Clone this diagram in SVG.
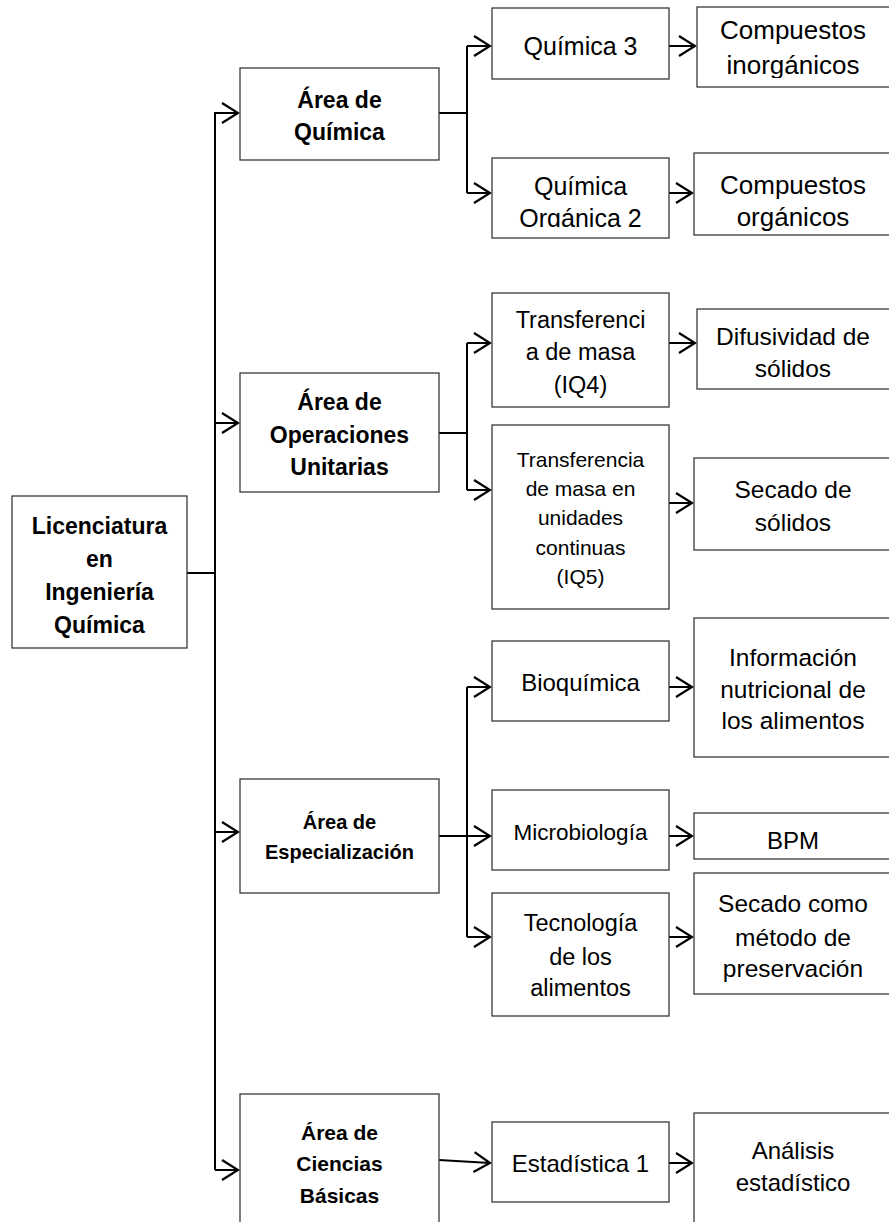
<svg xmlns="http://www.w3.org/2000/svg" width="889" height="1222" viewBox="0 0 889 1222">
<style>
.box{fill:#fff;stroke:#3a3a3a;stroke-width:1.3}
.t{font-family:"Liberation Sans",Arial,sans-serif;fill:#000;text-anchor:middle}
.b{font-weight:bold}
.c{fill:none;stroke:#000;stroke-width:2}
</style>
<defs>
<marker id="arr" markerUnits="userSpaceOnUse" viewBox="-18 -12 20 24" refX="0" refY="0" markerWidth="20" markerHeight="24" orient="auto">
<path d="M-16,-10 L0,0 L-16,10" fill="none" stroke="#000" stroke-width="2.2"/>
</marker>
<clipPath id="clipQO2"><rect x="492" y="158" width="177" height="69"/></clipPath>
<clipPath id="clipCI"><rect x="697" y="7" width="195" height="71"/></clipPath>
</defs>

<g id="connectors">
<path class="c" d="M187,573 H215"/>
<path class="c" d="M215,1170 V113 H238" marker-end="url(#arr)"/>
<path class="c" d="M215,423 H238" marker-end="url(#arr)"/>
<path class="c" d="M215,832 H238" marker-end="url(#arr)"/>
<path class="c" d="M215,1170 H238" marker-end="url(#arr)"/>
<path class="c" d="M439,113 H467"/>
<path class="c" d="M467,46 V193"/>
<path class="c" d="M467,46 H490" marker-end="url(#arr)"/>
<path class="c" d="M467,193 H490" marker-end="url(#arr)"/>
<path class="c" d="M439,433 H467"/>
<path class="c" d="M467,343 V490"/>
<path class="c" d="M467,343 H490" marker-end="url(#arr)"/>
<path class="c" d="M467,490 H490" marker-end="url(#arr)"/>
<path class="c" d="M439,836 H467"/>
<path class="c" d="M467,687 V937"/>
<path class="c" d="M467,687 H490" marker-end="url(#arr)"/>
<path class="c" d="M467,836 H490" marker-end="url(#arr)"/>
<path class="c" d="M467,937 H490" marker-end="url(#arr)"/>
<path class="c" d="M439,1160 L490,1163" marker-end="url(#arr)"/>
<path class="c" d="M669,46 H695" marker-end="url(#arr)"/>
<path class="c" d="M669,193 H692" marker-end="url(#arr)"/>
<path class="c" d="M669,343 H695" marker-end="url(#arr)"/>
<path class="c" d="M669,503 H692" marker-end="url(#arr)"/>
<path class="c" d="M669,687 H692" marker-end="url(#arr)"/>
<path class="c" d="M669,836 H692" marker-end="url(#arr)"/>
<path class="c" d="M669,937 H692" marker-end="url(#arr)"/>
<path class="c" d="M669,1163 H692" marker-end="url(#arr)"/>
</g>

<g id="root">
<rect class="box" x="12" y="496" width="175" height="152"/>
<text class="t b" font-size="23" x="99.5" y="534">Licenciatura</text>
<text class="t b" font-size="23" x="99.5" y="567">en</text>
<text class="t b" font-size="23" x="99.5" y="600">Ingeniería</text>
<text class="t b" font-size="23" x="99.5" y="633">Química</text>
</g>

<g id="area-quimica">
<rect class="box" x="240" y="68" width="199" height="92"/>
<text class="t b" font-size="23" x="339.5" y="108">Área de</text>
<text class="t b" font-size="23" x="339.5" y="140">Química</text>
</g>

<g id="area-operaciones">
<rect class="box" x="240" y="373" width="199" height="119"/>
<text class="t b" font-size="23" x="339.5" y="410">Área de</text>
<text class="t b" font-size="23" x="339.5" y="443">Operaciones</text>
<text class="t b" font-size="23" x="339.5" y="475">Unitarias</text>
</g>

<g id="area-especializacion">
<rect class="box" x="240" y="779" width="199" height="114"/>
<text class="t b" font-size="20" x="339.5" y="829">Área de</text>
<text class="t b" font-size="20" x="339.5" y="859">Especialización</text>
</g>

<g id="area-ciencias">
<rect class="box" x="240" y="1094" width="199" height="140"/>
<text class="t b" font-size="21" x="339.5" y="1140">Área de</text>
<text class="t b" font-size="21" x="339.5" y="1171">Ciencias</text>
<text class="t b" font-size="21" x="339.5" y="1203">Básicas</text>
</g>

<g id="quimica3">
<rect class="box" x="492" y="8" width="177" height="71"/>
<text class="t" font-size="25" x="580.5" y="55">Química 3</text>
</g>

<g id="quimica-organica2">
<rect class="box" x="492" y="158" width="177" height="80"/>
<g clip-path="url(#clipQO2)">
<text class="t" font-size="25" x="580.5" y="195">Química</text>
<text class="t" font-size="25" x="580.5" y="227">Orgánica 2</text>
</g>
</g>

<g id="compuestos-inorganicos">
<rect class="box" x="697" y="7" width="195" height="80"/>
<g clip-path="url(#clipCI)">
<text class="t" font-size="26" x="793" y="39">Compuestos</text>
<text class="t" font-size="26" x="793" y="74">inorgánicos</text>
</g>
</g>

<g id="compuestos-organicos">
<rect class="box" x="694" y="153" width="198" height="82"/>
<text class="t" font-size="26" x="793" y="194">Compuestos</text>
<text class="t" font-size="26" x="793" y="226">orgánicos</text>
</g>

<g id="iq4">
<rect class="box" x="492" y="293" width="177" height="114"/>
<text class="t" font-size="23.5" x="580.5" y="328">Transferenci</text>
<text class="t" font-size="23.5" x="580.5" y="360">a de masa</text>
<text class="t" font-size="23.5" x="580.5" y="393">(IQ4)</text>
</g>

<g id="iq5">
<rect class="box" x="492" y="425" width="177" height="184"/>
<text class="t" font-size="21" x="580.5" y="467">Transferencia</text>
<text class="t" font-size="21" x="580.5" y="496">de masa en</text>
<text class="t" font-size="21" x="580.5" y="525">unidades</text>
<text class="t" font-size="21" x="580.5" y="555">continuas</text>
<text class="t" font-size="21" x="580.5" y="584">(IQ5)</text>
</g>

<g id="difusividad">
<rect class="box" x="697" y="309" width="195" height="80"/>
<text class="t" font-size="24.5" x="793" y="345">Difusividad de</text>
<text class="t" font-size="24.5" x="793" y="377">sólidos</text>
</g>

<g id="secado-solidos">
<rect class="box" x="694" y="458" width="198" height="92"/>
<text class="t" font-size="24.5" x="793" y="498">Secado de</text>
<text class="t" font-size="24.5" x="793" y="531">sólidos</text>
</g>

<g id="bioquimica">
<rect class="box" x="492" y="641" width="177" height="80"/>
<text class="t" font-size="24" x="580.5" y="691">Bioquímica</text>
</g>

<g id="info-nutricional">
<rect class="box" x="694" y="618" width="198" height="139"/>
<text class="t" font-size="24.5" x="793" y="666">Información</text>
<text class="t" font-size="24.5" x="793" y="698">nutricional de</text>
<text class="t" font-size="24.5" x="793" y="729">los alimentos</text>
</g>

<g id="microbiologia">
<rect class="box" x="492" y="790" width="177" height="80"/>
<text class="t" font-size="22.5" x="580.5" y="840">Microbiología</text>
</g>

<g id="bpm">
<rect class="box" x="694" y="813" width="198" height="46"/>
<text class="t" font-size="24" x="793" y="849">BPM</text>
</g>

<g id="tecnologia">
<rect class="box" x="492" y="893" width="177" height="123"/>
<text class="t" font-size="23.5" x="580.5" y="931">Tecnología</text>
<text class="t" font-size="23.5" x="580.5" y="965">de los</text>
<text class="t" font-size="23.5" x="580.5" y="996">alimentos</text>
</g>

<g id="secado-preservacion">
<rect class="box" x="694" y="873" width="198" height="121"/>
<text class="t" font-size="24.5" x="793" y="912">Secado como</text>
<text class="t" font-size="24.5" x="793" y="946">método de</text>
<text class="t" font-size="24.5" x="793" y="977">preservación</text>
</g>

<g id="estadistica1">
<rect class="box" x="492" y="1122" width="177" height="80"/>
<text class="t" font-size="24" x="580.5" y="1172">Estadística 1</text>
</g>

<g id="analisis">
<rect class="box" x="694" y="1113" width="198" height="120"/>
<text class="t" font-size="24" x="793" y="1159">Análisis</text>
<text class="t" font-size="24" x="793" y="1191">estadístico</text>
</g>
</svg>
